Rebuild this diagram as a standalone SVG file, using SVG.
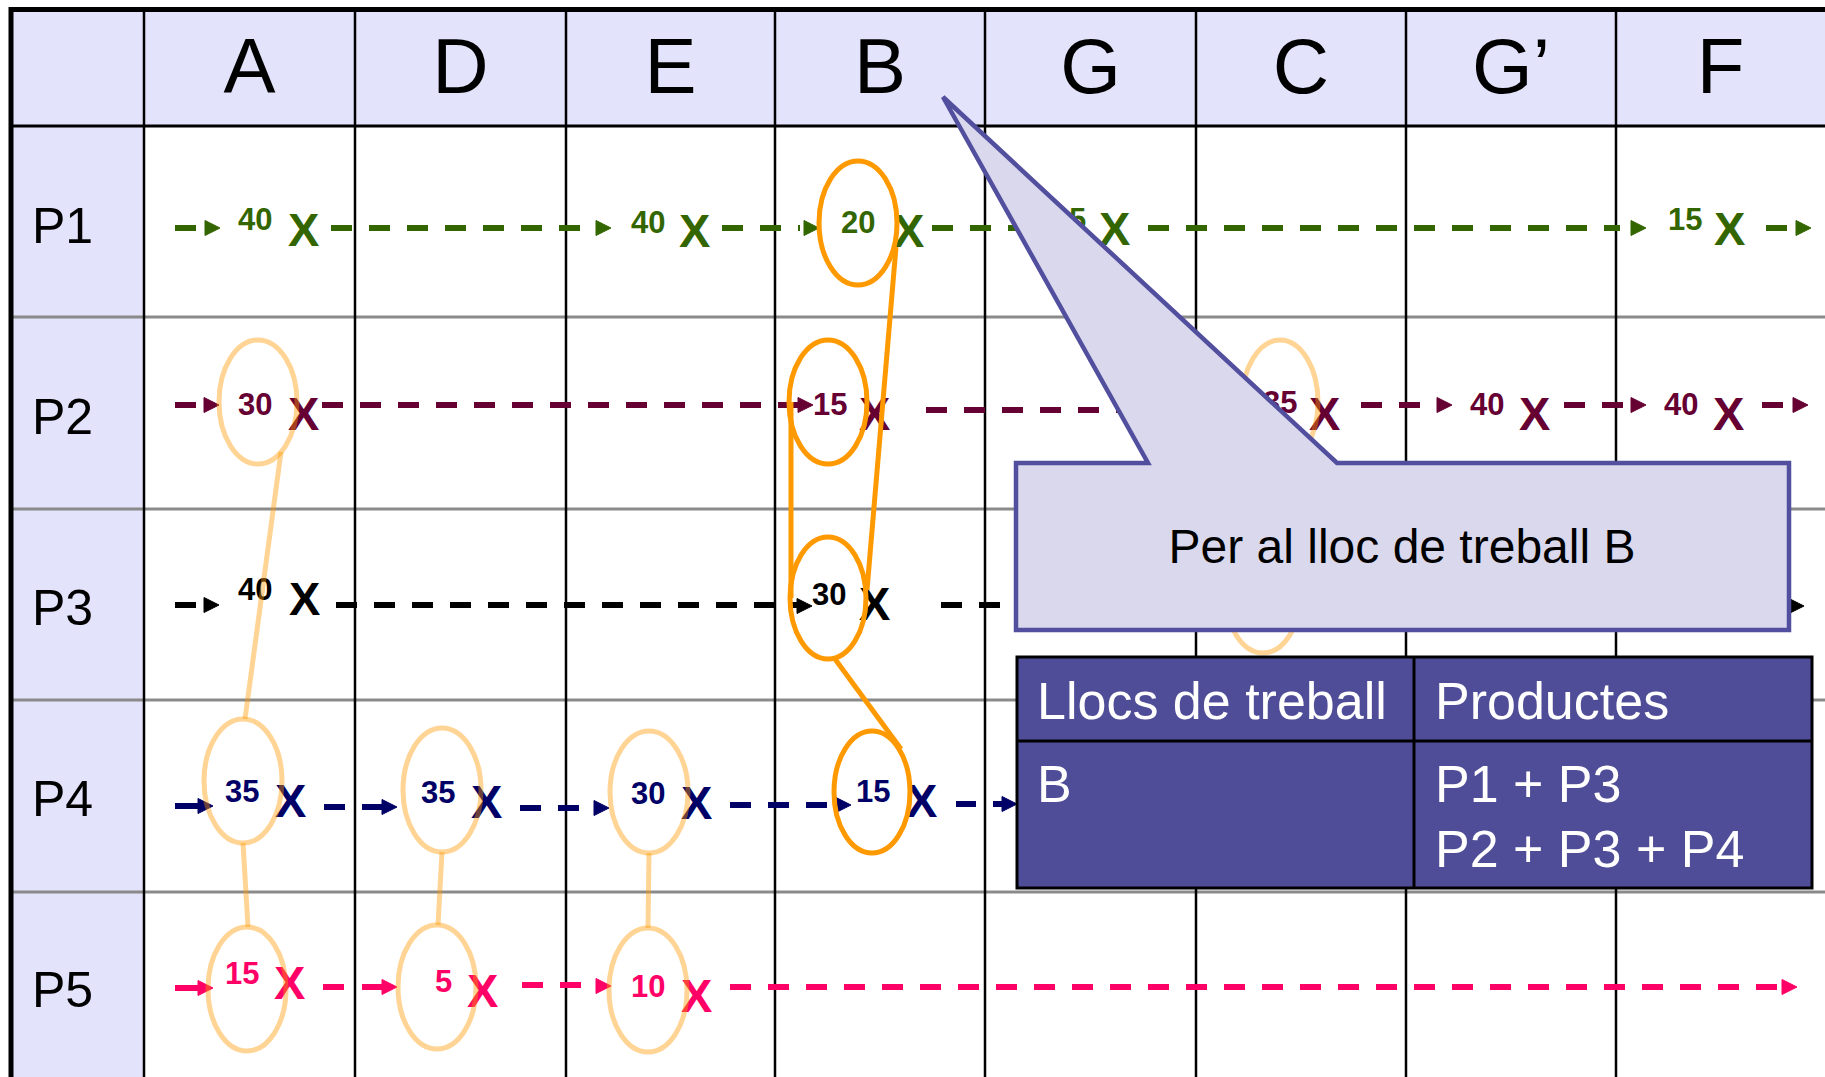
<svg xmlns="http://www.w3.org/2000/svg" width="1825" height="1077" viewBox="0 0 1825 1077">
<defs>
<style>
text{font-family:"Liberation Sans",Arial,sans-serif}
.hd{font-size:78px;fill:#000;text-anchor:middle}
.rl{font-size:50px;fill:#000}
.vl{stroke:#000;stroke-width:2.5}
.hl{stroke:#8a8a8a;stroke-width:3}
.num{font-size:31px;font-weight:bold}
.x{font-size:47px;font-weight:bold}
.d{stroke-width:6;stroke-dasharray:21 17;fill:none}
.s{stroke-width:6;fill:none}
.g{stroke:#336600;fill:#336600}
.m{stroke:#660033;fill:#660033}
.k{stroke:#000;fill:#000}
.n{stroke:#000066;fill:#000066}
.p{stroke:#FF0066;fill:#FF0066}
text.g,text.m,text.k,text.n,text.p{stroke:none}
.lo{fill:none;stroke:#FF9900;stroke-opacity:0.42;stroke-width:5}
.so{fill:none;stroke:#FF9900;stroke-width:5}
.tw{font-size:52px;fill:#fff}
</style>
<path id="ah" d="M-15,-7.5 L0,0 L-15,7.5 Z"/>
</defs>
<rect width="1825" height="1077" fill="#fff"/>
<g id="grid">
<rect x="11" y="9" width="1814" height="117" fill="#E3E3FB"/>
<rect x="11" y="126" width="133" height="951" fill="#E3E3FB"/>
<line class="hl" x1="11" y1="317" x2="1825" y2="317"/>
<line class="hl" x1="11" y1="509" x2="1825" y2="509"/>
<line class="hl" x1="11" y1="700" x2="1825" y2="700"/>
<line class="hl" x1="11" y1="892" x2="1825" y2="892"/>
<line class="vl" x1="144" y1="9" x2="144" y2="1077"/>
<line class="vl" x1="355" y1="9" x2="355" y2="1077"/>
<line class="vl" x1="566" y1="9" x2="566" y2="1077"/>
<line class="vl" x1="775" y1="9" x2="775" y2="1077"/>
<line class="vl" x1="985" y1="9" x2="985" y2="1077"/>
<line class="vl" x1="1196" y1="9" x2="1196" y2="1077"/>
<line class="vl" x1="1406" y1="9" x2="1406" y2="1077"/>
<line class="vl" x1="1616" y1="9" x2="1616" y2="1077"/>
<line x1="11" y1="126" x2="1825" y2="126" stroke="#000" stroke-width="3"/>
<line x1="9" y1="9.5" x2="1825" y2="9.5" stroke="#000" stroke-width="5"/>
<line x1="11" y1="7" x2="11" y2="1077" stroke="#000" stroke-width="5"/>
</g>
<g id="headers">
<text class="hd" x="249.5" y="93">A</text>
<text class="hd" x="460.5" y="93">D</text>
<text class="hd" x="670.5" y="93">E</text>
<text class="hd" x="880" y="93">B</text>
<text class="hd" x="1090.5" y="93">G</text>
<text class="hd" x="1301" y="93">C</text>
<text class="hd" x="1511" y="93">G’</text>
<text class="hd" x="1720.5" y="93">F</text>
<text class="rl" x="32" y="243">P1</text>
<text class="rl" x="32" y="434">P2</text>
<text class="rl" x="32" y="625">P3</text>
<text class="rl" x="32" y="816">P4</text>
<text class="rl" x="32" y="1007">P5</text>
</g>
<g id="connectors">
<!-- P1 -->
<g id="flow-P1">
<line class="d g" x1="175" y1="228" x2="200" y2="228"/>
<use href="#ah" class="g" x="220" y="228"/>
<text class="num g" x="238" y="230">40</text>
<text class="x g" x="288" y="246">X</text>
<line class="d g" x1="331" y1="228" x2="596" y2="228"/>
<use href="#ah" class="g" x="611" y="228"/>
<text class="num g" x="631" y="233">40</text>
<text class="x g" x="679" y="247">X</text>
<line class="d g" x1="722" y1="228" x2="800" y2="228"/>
<use href="#ah" class="g" x="819" y="228"/>
<text class="num g" x="841" y="233">20</text>
<text class="x g" x="893" y="247">X</text>
<line class="d g" x1="932" y1="228" x2="1030" y2="228"/>
<use href="#ah" class="g" x="1045" y="228"/>
<text class="num g" x="1069" y="230">5</text>
<text class="x g" x="1099" y="245">X</text>
<line class="d g" x1="1148" y1="228" x2="1620" y2="228"/>
<use href="#ah" class="g" x="1646" y="228"/>
<text class="num g" x="1668" y="230">15</text>
<text class="x g" x="1714" y="245">X</text>
<line class="d g" x1="1766" y1="228" x2="1796" y2="228"/>
<use href="#ah" class="g" x="1811" y="228"/>
</g>
<g id="flow-P2">
<line class="d m" x1="175" y1="405" x2="200" y2="405"/>
<use href="#ah" class="m" x="219" y="405"/>
<text class="num m" x="238" y="415">30</text>
<text class="x m" x="288" y="430">X</text>
<line class="d m" x1="322" y1="405" x2="798" y2="405"/>
<use href="#ah" class="m" x="813" y="405"/>
<text class="num m" x="813" y="415">15</text>
<text class="x m" x="859" y="430">X</text>
<line class="d m" x1="926" y1="410" x2="1230" y2="410"/>
<text class="num m" x="1263" y="413">35</text>
<text class="x m" x="1309" y="430">X</text>
<line class="d m" x1="1361" y1="405" x2="1425" y2="405"/>
<use href="#ah" class="m" x="1452" y="405"/>
<text class="num m" x="1470" y="415">40</text>
<text class="x m" x="1519" y="430">X</text>
<line class="d m" x1="1564" y1="405" x2="1625" y2="405"/>
<use href="#ah" class="m" x="1646" y="405"/>
<text class="num m" x="1664" y="415">40</text>
<text class="x m" x="1713" y="430">X</text>
<line class="d m" x1="1762" y1="405" x2="1793" y2="405"/>
<use href="#ah" class="m" x="1808" y="405"/>
</g>
<g id="flow-P3">
<line class="d k" x1="175" y1="605" x2="200" y2="605"/>
<use href="#ah" class="k" x="219" y="605"/>
<text class="num k" x="238" y="600">40</text>
<text class="x k" x="289" y="615">X</text>
<line class="d k" x1="336" y1="605" x2="798" y2="605"/>
<use href="#ah" class="k" x="812" y="606"/>
<text class="num k" x="812" y="605">30</text>
<text class="x k" x="859" y="620">X</text>
<line class="d k" x1="941" y1="605" x2="1785" y2="605"/>
<use href="#ah" class="k" x="1804" y="606"/>
</g>
<g id="flow-P4">
<line class="s n" x1="175" y1="806" x2="200" y2="806"/>
<use href="#ah" class="n" x="213" y="806"/>
<text class="num n" x="225" y="802">35</text>
<text class="x n" x="275" y="817">X</text>
<line class="d n" x1="324" y1="807" x2="346" y2="807"/>
<line class="s n" x1="362" y1="807" x2="385" y2="807"/>
<use href="#ah" class="n" x="397" y="807"/>
<text class="num n" x="421" y="803">35</text>
<text class="x n" x="471" y="818">X</text>
<line class="d n" x1="520" y1="808" x2="590" y2="808"/>
<use href="#ah" class="n" x="609" y="808"/>
<text class="num n" x="631" y="804">30</text>
<text class="x n" x="681" y="819">X</text>
<line class="d n" x1="730" y1="805" x2="836" y2="805"/>
<use href="#ah" class="n" x="851" y="805"/>
<text class="num n" x="856" y="802">15</text>
<text class="x n" x="906" y="817">X</text>
<line class="d n" x1="956" y1="804" x2="976" y2="804"/>
<line class="s n" x1="993" y1="804" x2="1005" y2="804"/>
<use href="#ah" class="n" x="1017" y="804"/>
</g>
<g id="flow-P5">
<line class="s p" x1="175" y1="988" x2="200" y2="988"/>
<use href="#ah" class="p" x="213" y="988"/>
<text class="num p" x="225" y="984">15</text>
<text class="x p" x="274" y="999">X</text>
<line class="d p" x1="323" y1="987" x2="345" y2="987"/>
<line class="s p" x1="362" y1="987" x2="385" y2="987"/>
<use href="#ah" class="p" x="397" y="987"/>
<text class="num p" x="435" y="992">5</text>
<text class="x p" x="467" y="1007">X</text>
<line class="d p" x1="522" y1="985" x2="596" y2="985"/>
<use href="#ah" class="p" x="611" y="986"/>
<text class="num p" x="631" y="997">10</text>
<text class="x p" x="681" y="1012">X</text>
<line class="d p" x1="730" y1="987" x2="1780" y2="987"/>
<use href="#ah" class="p" x="1797" y="987"/>
</g>
</g>
<g id="groupings">
<g id="light-A">
<ellipse class="lo" cx="258" cy="402" rx="39" ry="62"/>
<ellipse class="lo" cx="243" cy="781" rx="39" ry="62"/>
<ellipse class="lo" cx="247" cy="989" rx="39" ry="62"/>
<line class="lo" x1="281" y1="452" x2="245" y2="719"/>
<line class="lo" x1="243" y1="843" x2="248" y2="927"/>
</g>
<g id="light-D">
<ellipse class="lo" cx="442" cy="790" rx="39" ry="62"/>
<ellipse class="lo" cx="437" cy="987" rx="39" ry="62"/>
<line class="lo" x1="442" y1="852" x2="438" y2="925"/>
</g>
<g id="light-E">
<ellipse class="lo" cx="649" cy="792" rx="39" ry="61"/>
<ellipse class="lo" cx="648" cy="990" rx="39" ry="62"/>
<line class="lo" x1="649" y1="853" x2="648" y2="928"/>
</g>
<g id="light-C">
<ellipse class="lo" cx="1280" cy="402" rx="38" ry="62"/>
<ellipse class="lo" cx="1263" cy="592" rx="38" ry="61"/>
</g>
<g id="strong-B">
<ellipse class="so" cx="858" cy="223" rx="39" ry="62"/>
<ellipse class="so" cx="828" cy="402" rx="39" ry="62"/>
<ellipse class="so" cx="828" cy="598" rx="38" ry="61"/>
<ellipse class="so" cx="872" cy="792" rx="38" ry="61"/>
<line class="so" x1="896" y1="247" x2="867" y2="590"/>
<line class="so" x1="791" y1="402" x2="791" y2="598"/>
<line class="so" x1="835" y1="659" x2="901" y2="749"/>
</g>
</g>
<g id="callout">
<polygon points="1016,463 1148,463 943,97 1337,463 1789,463 1789,630 1016,630" fill="#D9D8ED" stroke="#524F9E" stroke-width="4.5" stroke-linejoin="miter"/>
<text x="1402" y="563" font-size="48" text-anchor="middle" fill="#000">Per al lloc de treball B</text>
</g>
<g id="table">
<rect x="1017" y="657" width="795" height="231" fill="#504D98" stroke="#000" stroke-width="3"/>
<line x1="1017" y1="741" x2="1812" y2="741" stroke="#000" stroke-width="3"/>
<line x1="1414" y1="657" x2="1414" y2="888" stroke="#000" stroke-width="3"/>
<text class="tw" x="1037" y="719">Llocs de treball</text>
<text class="tw" x="1435" y="719">Productes</text>
<text class="tw" x="1037" y="802">B</text>
<text class="tw" x="1435" y="802">P1 + P3</text>
<text class="tw" x="1435" y="867">P2 + P3 + P4</text>
</g>
</svg>
